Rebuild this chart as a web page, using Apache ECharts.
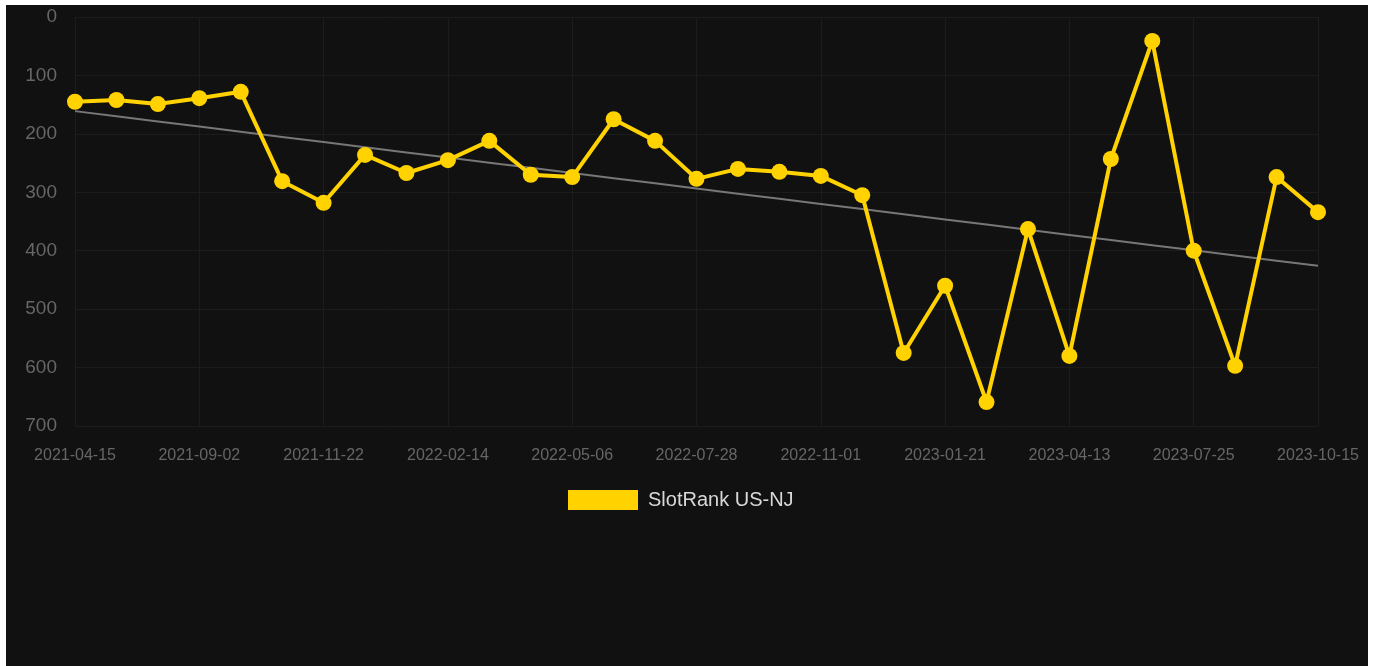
<!DOCTYPE html>
<html>
<head>
<meta charset="utf-8">
<script src="https://cdn.jsdelivr.net/npm/echarts@6/dist/echarts.min.js"></script>
<style>
  html, body { margin: 0; padding: 0; background: #fff; }
  #chart {
    position: absolute;
    left: 6px;
    top: 5px;
    width: 1362px;
    height: 661px;
    background: #111111;
  }
</style>
</head>
<body>
<div id="chart"></div>
<script>
// dates on the x axis (every 3rd one is labelled)
const dates = [
  "2021-04-15", "2021-05-28", "2021-07-15", "2021-09-02", "2021-09-28", "2021-10-25",
  "2021-11-22", "2021-12-20", "2022-01-17", "2022-02-14", "2022-03-14", "2022-04-08",
  "2022-05-06", "2022-06-02", "2022-06-30", "2022-07-28", "2022-08-30", "2022-10-01",
  "2022-11-01", "2022-11-28", "2022-12-25", "2023-01-21", "2023-02-18", "2023-03-17",
  "2023-04-13", "2023-05-15", "2023-06-20", "2023-07-25", "2023-08-22", "2023-09-18",
  "2023-10-15"
];

// rank values
const ranks = [
  145, 142, 149, 139, 128, 281,
  318, 236, 267, 245, 212, 270,
  274, 175, 212, 277, 260, 265,
  272, 305, 575, 460, 659, 363,
  580, 243, 41, 400, 597, 274,
  334
];

const seriesName = "SlotRank US-NJ";
const yTicks = [0, 700, 100]; // min, max, step

// least squares trend over the ranks
function trendLine(vals) {
  const n = vals.length;
  let sx = 0, sy = 0, sxy = 0, sxx = 0;
  vals.forEach((v, i) => { sx += i; sy += v; sxy += i * v; sxx += i * i; });
  const slope = (n * sxy - sx * sy) / (n * sxx - sx * sx);
  const icpt = (sy - slope * sx) / n;
  return vals.map((v, i) => +(icpt + slope * i).toFixed(2));
}

const font = "'Liberation Sans', Arial, sans-serif";
const chart = echarts.init(document.getElementById("chart"));

const option = {
  backgroundColor: "#111111",
  animation: false,
  grid: {
    left: 69,
    right: 50,
    top: 12,
    bottom: 240
  },
  legend: {
    data: [seriesName],
    top: 480,
    left: 557,
    icon: "rect",
    itemWidth: 70,
    itemHeight: 20,
    textStyle: {
      color: "#d8d8d8",
      fontSize: 20,
      fontFamily: font,
      padding: [0, 0, 0, 5]
    }
  },
  xAxis: {
    type: "category",
    data: dates,
    boundaryGap: false,
    axisLine: { show: false },
    axisTick: { show: false },
    axisLabel: {
      interval: 2,
      color: "#666",
      fontSize: 16,
      fontFamily: font,
      margin: 22
    },
    splitLine: {
      show: true,
      interval: 2,
      lineStyle: { color: "#1c1c1c", width: 1 }
    }
  },
  yAxis: {
    type: "value",
    inverse: true,
    min: yTicks[0],
    max: yTicks[1],
    interval: yTicks[2],
    axisLine: { show: false },
    axisTick: { show: false },
    axisLabel: {
      color: "#666",
      fontSize: 19,
      fontFamily: font,
      margin: 18
    },
    splitLine: {
      lineStyle: { color: "#1c1c1c", width: 1 }
    }
  },
  series: [
    {
      name: "trend",
      type: "line",
      data: trendLine(ranks),
      symbol: "none",
      z: 1,
      lineStyle: { color: "#777", width: 2 },
      itemStyle: { color: "#777" }
    },
    {
      name: seriesName,
      type: "line",
      data: ranks,
      symbol: "circle",
      symbolSize: 16,
      z: 3,
      lineStyle: { color: "#FFD200", width: 4 },
      itemStyle: { color: "#FFD200" }
    }
  ]
};

chart.setOption(option);
</script>
</body>
</html>
